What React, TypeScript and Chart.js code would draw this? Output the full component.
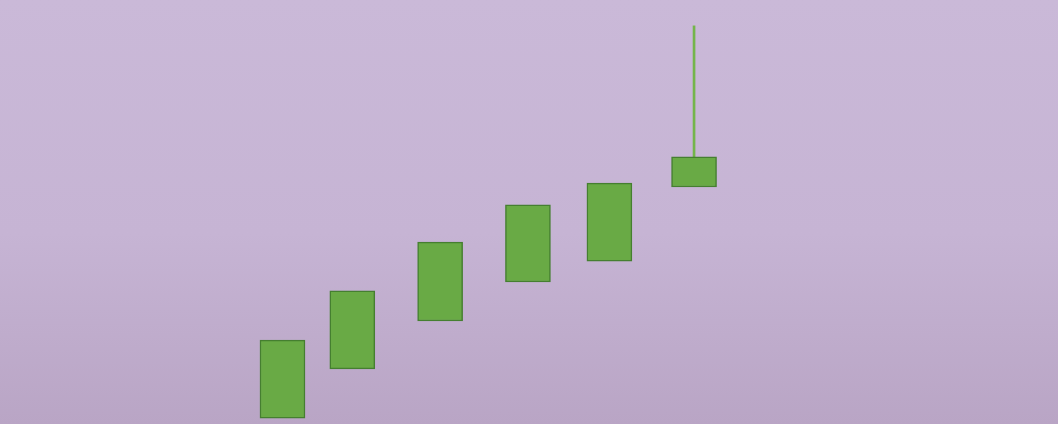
import { useEffect, useRef } from 'react'
import Chart from 'chart.js/auto'

// candle positions along the time axis (0..100) and prices (0..100)
const times = [26.7, 33.3, 41.6, 49.9, 57.6, 65.6]
const opens = [1.4, 13.0, 24.3, 33.5, 38.4, 55.9]
const closes = [19.8, 31.4, 42.9, 51.7, 56.8, 63.0]
const highs = [19.8, 31.4, 42.9, 51.7, 56.8, 93.9]

export default function App() {
  const canvasRef = useRef<HTMLCanvasElement>(null)

  useEffect(() => {
    if (!canvasRef.current) return
    const ctx = canvasRef.current.getContext('2d')
    if (!ctx) return

    const bodies = times.map((t, i) => ({ x: t, y: [opens[i], closes[i]] }))
    const wicks = times
      .map((t, i) => ({ x: t, y: [Math.max(opens[i], closes[i]), highs[i]] }))
      .filter((w) => w.y[1] > w.y[0])

    const chart = new Chart(ctx, {
      type: 'bar',
      data: {
        datasets: [
          {
            label: 'wick',
            data: wicks as any,
            backgroundColor: '#74b54b',
            borderWidth: 0,
            barThickness: 2,
            grouped: false,
            order: 2,
          },
          {
            label: 'body',
            data: bodies as any,
            backgroundColor: '#69aa45',
            borderColor: '#457f30',
            borderWidth: 1.5,
            borderSkipped: false,
            barThickness: 45,
            grouped: false,
            order: 1,
          },
        ],
      },
      options: {
        responsive: true,
        maintainAspectRatio: false,
        animation: false,
        layout: { padding: 0 },
        plugins: { legend: { display: false }, tooltip: { enabled: false } },
        scales: {
          x: { type: 'linear', min: 0, max: 100, offset: false, display: false },
          y: { min: 0, max: 100, display: false },
        },
      },
    })

    return () => chart.destroy()
  }, [])

  return (
    <div
      style={{
        position: 'fixed',
        left: 0,
        top: 0,
        width: 1058,
        height: 424,
        background: 'linear-gradient(180deg, #cab9d8 0%, #c6b4d4 55%, #b9a5c5 100%)',
      }}
    >
      <canvas ref={canvasRef}></canvas>
    </div>
  )
}
